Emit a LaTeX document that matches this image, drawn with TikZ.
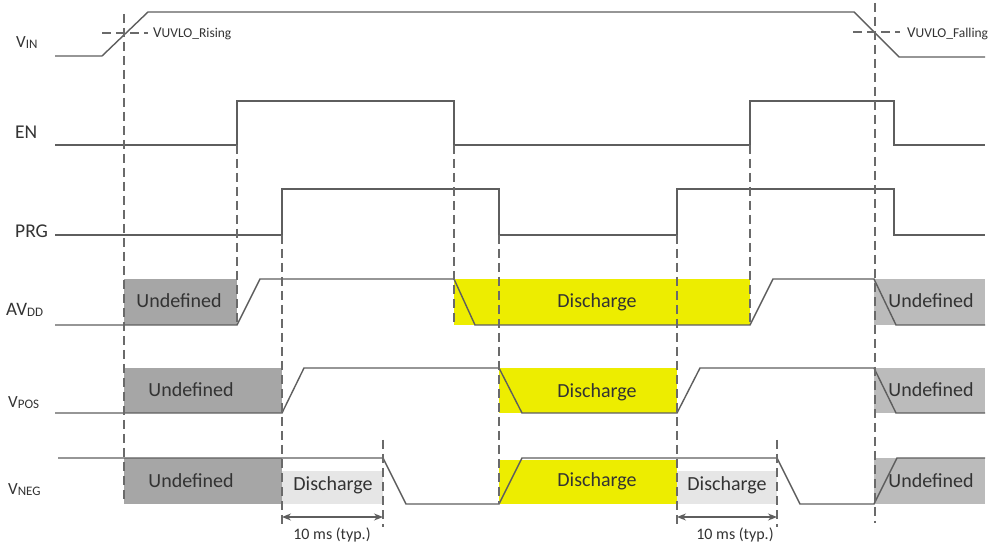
\documentclass[tikz,border=0pt]{standalone}
\usepackage{fontspec}
\setmainfont{Carlito}
\usetikzlibrary{arrows.meta}
\definecolor{sigc}{HTML}{5E5E5E}
\definecolor{dashc}{HTML}{6A6A6A}
\definecolor{txtc}{HTML}{333333}
\definecolor{undefL}{HTML}{A6A6A6}
\definecolor{undefR}{HTML}{BBBBBB}
\definecolor{yel}{HTML}{EDED00}
\definecolor{lgray}{HTML}{E6E6E6}
\newcommand\siglab[3]{{\fontsize{#3}{#3}\selectfont #1}\raisebox{-1pt}{\fontsize{13}{13}\selectfont #2}}
\begin{document}
\begin{tikzpicture}[x=1pt,y=-1pt,
  sigline/.style={draw=sigc,line width=1.4pt,line join=miter},
  vdash/.style={draw=dashc,line width=1.3pt,dash pattern=on 9pt off 5pt},
  lab/.style={inner sep=0pt,text=txtc,anchor=base west},
  boxtxt/.style={inner sep=0pt,text=txtc,anchor=base,font=\fontsize{20}{20}\selectfont},
  typtxt/.style={inner sep=0pt,text=txtc,anchor=base,font=\fontsize{16}{16}\selectfont},
  uvlotxt/.style={inner sep=0pt,text=txtc,anchor=base west},
  undL/.style={fill=undefL},
  undR/.style={fill=undefR},
  disY/.style={fill=yel},
  disG/.style={fill=lgray},
  dimarrow/.style={draw=sigc,line width=1.3pt,{Stealth[length=9pt,width=7pt]}-{Stealth[length=9pt,width=7pt]}}
]
\useasboundingbox (0,0) rectangle (989,545);
\fill[white] (0,0) rectangle (989,545);

% ---------- fills ----------
\fill[undL] (124,279) rectangle (237,325);
\fill[disY] (454,279) rectangle (750,325);
\fill[undR] (874,279) rectangle (985,325);
\fill[undL] (124,368) rectangle (282,413);
\fill[disY] (499,368) rectangle (677,413);
\fill[undR] (874,368) rectangle (985,413);
\fill[undL] (124,458) rectangle (282,504);
\fill[disG] (282,471) rectangle (383,504);
\fill[disY] (499,460) rectangle (677,504);
\fill[disG] (677,471) rectangle (777,504);
\fill[undR] (874,458) rectangle (985,504);

% ---------- signals ----------
\draw[sigline] (55,56) -- (102,56) -- (148,12) -- (854,12) -- (899,57) -- (985,57);
\draw[sigline] (55,145) -- (237,145) -- (237,101) -- (454,101) -- (454,145) -- (750,145) -- (750,101) -- (894,101) -- (894,145) -- (985,145);
\draw[sigline] (55,235) -- (282,235) -- (282,189) -- (499,189) -- (499,235) -- (677,235) -- (677,189) -- (894,189) -- (894,235) -- (985,235);
\draw[sigline] (55,325) -- (237,325) -- (260,279) -- (454,279) -- (475,325) -- (750,325) -- (773,279) -- (874,279) -- (896,325) -- (985,325);
\draw[sigline] (55,413) -- (282,413) -- (304,368) -- (499,368) -- (522,413) -- (677,413) -- (700,368) -- (874,368) -- (896,413) -- (985,413);
\draw[sigline] (58,458) -- (383,458) -- (406,504) -- (499,504) -- (522,458) -- (777,458) -- (800,504) -- (874,504) -- (897,458) -- (985,458);

% ---------- dashed markers ----------
\draw[vdash] (124,14) -- (124,503);
\draw[vdash] (237,145) -- (237,325);
\draw[vdash] (282,235) -- (282,527);
\draw[vdash] (383,440) -- (383,527);
\draw[vdash] (454,145) -- (454,325);
\draw[vdash] (499,235) -- (499,504);
\draw[vdash] (677,235) -- (677,527);
\draw[vdash] (750,145) -- (750,325);
\draw[vdash] (777,440) -- (777,527);
\draw[vdash] (875,3) -- (875,523);
\draw[vdash] (102,33) -- (148,33);
\draw[vdash] (853,32) -- (900,32);

% ---------- dimension arrows ----------
\coordinate (d1a) at (282,517);
\coordinate (d1b) at (383,517);
\coordinate (d2a) at (677,517);
\coordinate (d2b) at (777,517);
\draw[dimarrow] (d1a) -- (d1b);
\draw[dimarrow] (d2a) -- (d2b);

% ---------- signal labels ----------
\node[lab] (lvin) at (16,48) {\siglab{V}{IN}{17}};
\node[lab,font=\fontsize{19.5}{19.5}\selectfont] (len) at (15,139) {EN};
\node[lab,font=\fontsize{19.5}{19.5}\selectfont] (lprg) at (15,238) {PRG};
\node[lab] (lavdd) at (6,316) {\siglab{AV}{DD}{19}};
\node[lab] (lvpos) at (8,408) {\siglab{V}{POS}{17}};
\node[lab] (lvneg) at (8,495) {\siglab{V}{NEG}{17}};

% ---------- UVLO labels ----------
\node[uvlotxt] (urise) at (153,38) {{\fontsize{15}{15}\selectfont V}{\fontsize{13.5}{13.5}\selectfont UVLO\_Rising}};
\node[uvlotxt] (ufall) at (907,38) {{\fontsize{15}{15}\selectfont V}{\fontsize{13.5}{13.5}\selectfont UVLO\_Falling}};

% ---------- box texts ----------
\node[boxtxt] (u1) at (179,308) {Undefined};
\node[boxtxt] (u2) at (191,397) {Undefined};
\node[boxtxt] (u3) at (191,487) {Undefined};
\node[boxtxt] (d1) at (597,308) {Discharge};
\node[boxtxt] (d2) at (597,398) {Discharge};
\node[boxtxt] (d3) at (597,486) {Discharge};
\node[boxtxt] (g1) at (333,490) {Discharge};
\node[boxtxt] (g2) at (727,490) {Discharge};
\node[boxtxt] (r1) at (931,308) {Undefined};
\node[boxtxt] (r2) at (931,397) {Undefined};
\node[boxtxt] (r3) at (931,487) {Undefined};

% ---------- typ labels ----------
\node[typtxt] (t1) at (332,539) {10 ms (typ.)};
\node[typtxt] (t2) at (735,539) {10 ms (typ.)};
\end{tikzpicture}
\end{document}
